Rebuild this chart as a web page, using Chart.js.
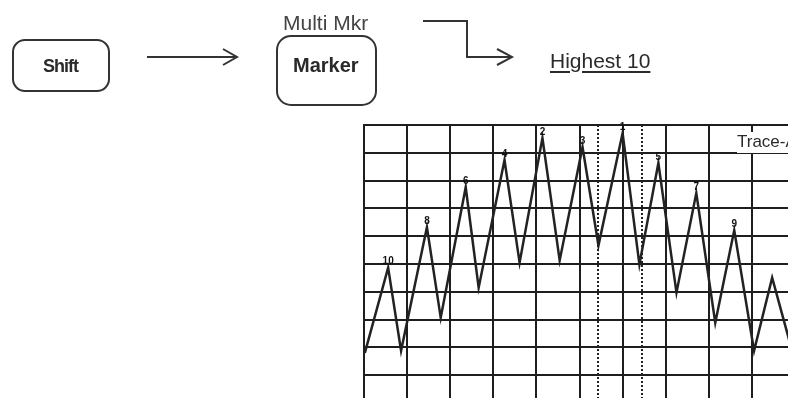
<!DOCTYPE html>
<html>
<head>
<meta charset="utf-8">
<script src="https://cdn.jsdelivr.net/npm/chart.js@4"></script>
<style>
  html, body { margin: 0; padding: 0; background: #fff; overflow: hidden; }
  #wrap { position: relative; width: 788px; height: 398px; overflow: hidden; font-family: "Liberation Sans", Arial, sans-serif; color: #2a2a2a; }
  #c { position: absolute; left: 0; top: 0; }
  .box { position: absolute; box-sizing: border-box; border: 2px solid #333; }
  .txt { position: absolute; line-height: 1; white-space: nowrap; }
  svg { position: absolute; left: 0; top: 0; }
</style>
</head>
<body>
<div id="wrap">
  <canvas id="c" width="800" height="410"></canvas>

  <!-- botones y flechas de la secuencia -->
  <div class="box" style="left:12px;top:39px;width:98px;height:53px;border-radius:13px"></div>
  <div class="txt" style="left:43px;top:57px;font-size:18px;font-weight:bold;letter-spacing:-1px">Shift</div>

  <div class="txt" style="left:283px;top:12px;font-size:21px;color:#444">Multi Mkr</div>
  <div class="box" style="left:276px;top:35px;width:101px;height:71px;border-radius:15px"></div>
  <div class="txt" style="left:293px;top:55px;font-size:20px;font-weight:bold">Marker</div>

  <div class="txt" style="left:550px;top:50px;font-size:21px;text-decoration:underline;text-decoration-thickness:2px;text-underline-offset:3px">Highest 10</div>

  <svg width="788" height="398">
    <g fill="none" stroke="#333" stroke-width="2">
      <line x1="147" y1="57" x2="237" y2="57"/>
      <polyline points="223,49 237,57 223,65"/>
      <polyline points="423,21 467,21 467,57 512,57"/>
      <polyline points="497,49 512,57 497,65"/>
    </g>
  </svg>

  <div class="txt" style="left:737px;top:132px;font-size:17px;background:#fff;padding:1px 0 3px 0">Trace-A</div>
</div>

<script>
// traza (x en divisiones*10, y en divisiones*10)
var traceX = [0.2, 5.6, 8.6, 14.6, 17.8, 23.6, 26.6, 32.6, 36.1, 41.4, 45.4, 50.7, 54.4, 60.0, 63.9, 68.3, 72.5, 77.1, 81.5, 85.9, 90.5, 94.7, 100];
var traceY = [18, 48.7, 18.8, 63.2, 30.7, 77.6, 41.5, 87.4, 50.5, 95.3, 51.3, 92.1, 56.7, 97.1, 49.8, 86.3, 39.7, 75.5, 28.9, 62.1, 18.8, 45.1, 15];
// numero de marcador sobre cada pico (los 10 mas altos)
var markerLabels = [null, "10", null, "8", null, "6", null, "4", null, "2", null, "3", null, "1", null, "5", null, "7", null, "9", null, null, null];
// lineas punteadas verticales
var dashX = [54.4, 64.4];

var puntos = [];
for (var i = 0; i < traceX.length; i++) {
  puntos.push({ x: traceX[i], y: traceY[i] });
}

var extras = {
  id: "extras",
  afterDatasetsDraw: function (chart) {
    var c = chart.ctx;
    var area = chart.chartArea;
    var xs = chart.scales.x;
    c.save();
    // lineas punteadas
    c.strokeStyle = "#222";
    c.lineWidth = 2;
    c.setLineDash([2, 2]);
    dashX.forEach(function (v) {
      var px = Math.round(xs.getPixelForValue(v));
      c.beginPath();
      c.moveTo(px, area.top);
      c.lineTo(px, area.bottom);
      c.stroke();
    });
    c.setLineDash([]);
    // numeros de marcador
    var meta = chart.getDatasetMeta(0);
    c.fillStyle = "#111";
    c.font = "bold 10px 'Liberation Sans', Arial, sans-serif";
    c.textAlign = "center";
    c.textBaseline = "bottom";
    meta.data.forEach(function (p, k) {
      if (markerLabels[k]) c.fillText(markerLabels[k], p.x, p.y - 1);
    });
    c.restore();
  }
};

const ctx = document.getElementById("c");
const traza = new Chart(ctx, {
  type: "line",
  data: {
    datasets: [{
      data: puntos,
      borderColor: "#222",
      borderWidth: 2.5,
      pointRadius: 0,
      tension: 0,
      fill: false
    }]
  },
  options: {
    responsive: false,
    animation: false,
    layout: { padding: { left: 364, top: 125, right: 5, bottom: 7 } },
    plugins: { legend: { display: false }, tooltip: { enabled: false } },
    scales: {
      x: {
        type: "linear", min: 0, max: 100,
        ticks: { display: false, stepSize: 10 },
        grid: { color: "#1e1e1e", lineWidth: 2, drawTicks: false, tickLength: 0 },
        border: { color: "#1e1e1e", width: 2 }
      },
      y: {
        type: "linear", min: 0, max: 100,
        ticks: { display: false, stepSize: 10 },
        grid: { color: "#1e1e1e", lineWidth: 2, drawTicks: false, tickLength: 0 },
        border: { color: "#1e1e1e", width: 2 }
      }
    }
  },
  plugins: [extras]
});
</script>
</body>
</html>
